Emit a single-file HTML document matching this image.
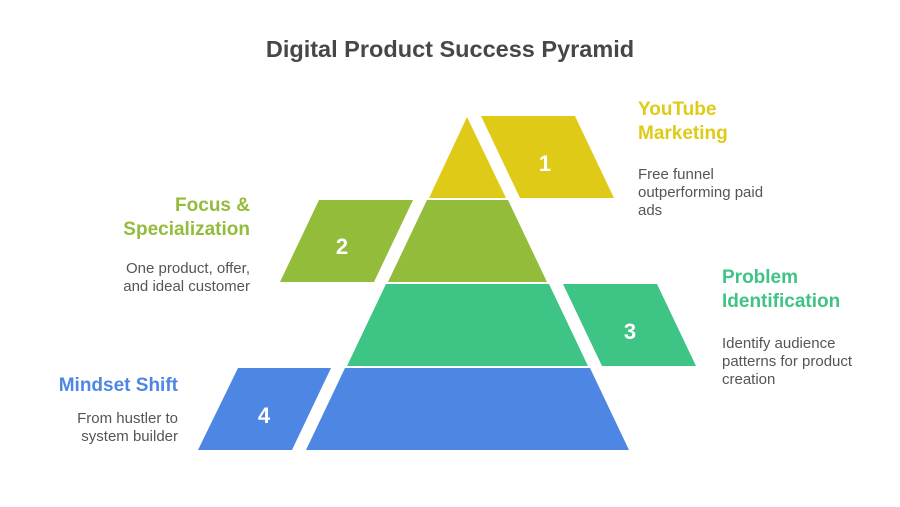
<!DOCTYPE html>
<html><head><meta charset="utf-8"><style>
html,body{margin:0;padding:0;background:#fff;}
svg{display:block;}
text{font-family:"Liberation Sans",Arial,sans-serif;}
</style></head><body>
<svg width="900" height="507" viewBox="0 0 900 507" xmlns="http://www.w3.org/2000/svg">
<text x="450" y="57" text-anchor="middle" font-size="23.5" font-weight="bold" fill="#474747">Digital Product Success Pyramid</text>

<polygon points="467,117 506,198 429,198" fill="#DFCB17"/>
<polygon points="481,116 575,116 614,198 520,198" fill="#DFCB17"/>
<polygon points="427,200 508,200 547,282 388,282" fill="#93BC3A"/>
<polygon points="319,200 413,200 374,282 280,282" fill="#93BC3A"/>
<polygon points="386,284 549,284 588,366 347,366" fill="#3EC484"/>
<polygon points="563,284 657,284 696,366 602,366" fill="#3EC484"/>
<polygon points="345,368 590,368 629,450 306,450" fill="#4E87E3"/>
<polygon points="238,368 331,368 292,450 198,450" fill="#4E87E3"/>

<g font-size="22" font-weight="bold" fill="#fff" text-anchor="middle">
<text x="545" y="171">1</text>
<text x="342" y="254">2</text>
<text x="630" y="339">3</text>
<text x="264" y="423">4</text>
</g>

<g font-size="19" font-weight="bold">
<text x="638" y="115" fill="#DFCB17">YouTube</text>
<text x="638" y="139" fill="#DFCB17">Marketing</text>
<text x="250" y="211" fill="#93BC3A" text-anchor="end">Focus &amp;</text>
<text x="250" y="235" fill="#93BC3A" text-anchor="end">Specialization</text>
<text x="722" y="283" fill="#3EC484">Problem</text>
<text x="722" y="307" fill="#3EC484">Identification</text>
<text x="178" y="391" fill="#4E87E3" text-anchor="end">Mindset Shift</text>
</g>

<g font-size="15" fill="#555">
<text x="638" y="179">Free funnel</text>
<text x="638" y="197">outperforming paid</text>
<text x="638" y="215">ads</text>
<text x="250" y="273" text-anchor="end">One product, offer,</text>
<text x="250" y="291" text-anchor="end">and ideal customer</text>
<text x="722" y="348">Identify audience</text>
<text x="722" y="366">patterns for product</text>
<text x="722" y="384">creation</text>
<text x="178" y="423" text-anchor="end">From hustler to</text>
<text x="178" y="441" text-anchor="end">system builder</text>
</g>
</svg>
</body></html>
